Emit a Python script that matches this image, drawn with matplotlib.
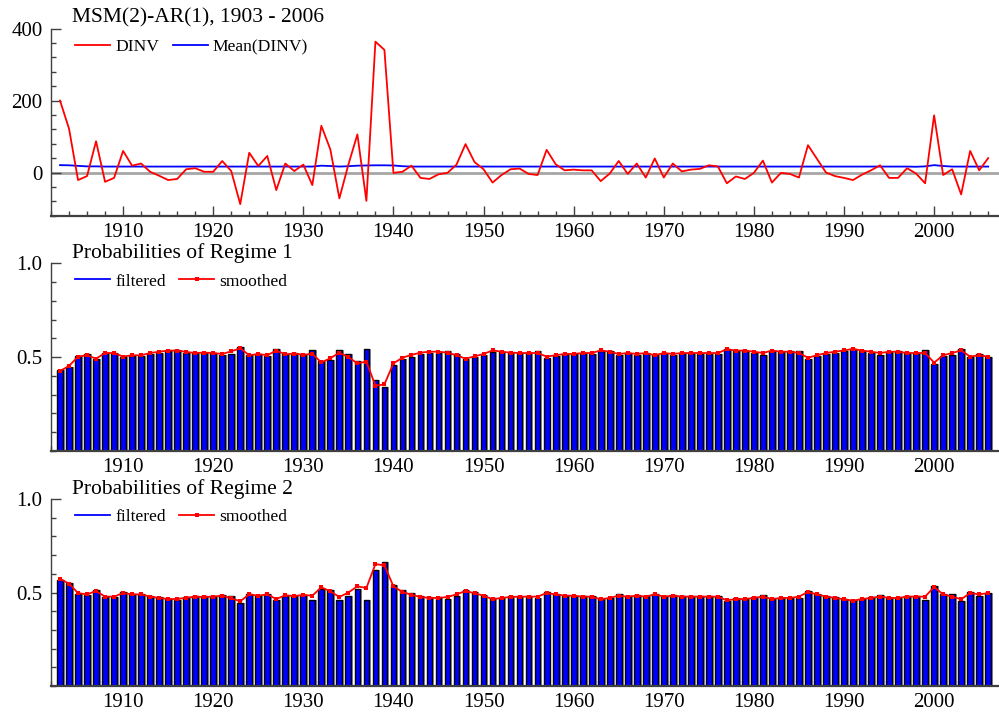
import matplotlib
matplotlib.use("Agg")
import matplotlib.pyplot as plt
from matplotlib.ticker import MultipleLocator, FixedLocator
from matplotlib.lines import Line2D

years = list(range(1903, 2007))

dinv = [200, 122, -21, -10, 87, -26, -15, 60,
        19, 25, 2, -9, -21, -18, 9, 12, 2, 2,
        32, 4, -88, 55, 18, 46, -49, 25, 4, 22,
        -35, 130, 64, -72, 22, 106, -79, 364, 341, -1,
        2, 19, -15, -18, -5, -1, 22, 79, 29, 9,
        -28, -7, 9, 11, -4, -7, 63, 23, 6, 8,
        6, 6, -24, -3, 32, -4, 25, -14, 39, -14,
        25, 3, 8, 10, 20, 17, -30, -11, -18, -1,
        33, -28, -1, -4, -14, 76, 38, 0, -10, -15,
        -21, -6, 6, 20, -15, -15, 12, -3, -30, 159,
        -7, 9, -61, 60, 6, 40]

mean_dinv = [20.5, 20.0, 18.5, 17.0, 17.0, 16.5, 16.5, 16.5,
             16.5, 16.5, 16.5, 16.5, 16.5, 16.5, 16.5, 16.5, 16.5, 16.5,
             16.5, 16.5, 16.5, 16.5, 16.5, 16.5, 16.5, 16.5, 16.5, 16.5,
             16.5, 19.0, 18.0, 16.5, 17.5, 19.0, 19.5, 20.0, 20.0, 19.5,
             17.5, 16.5, 16.5, 16.5, 16.5, 16.5, 16.5, 16.5, 16.5, 16.5,
             16.5, 16.5, 16.5, 16.5, 16.5, 16.5, 16.5, 16.5, 16.5, 16.5,
             16.5, 16.5, 16.5, 16.5, 16.5, 16.5, 16.5, 16.5, 16.5, 16.5,
             16.5, 16.5, 16.5, 16.5, 16.5, 16.5, 16.5, 16.5, 16.5, 16.5,
             16.5, 16.5, 16.5, 16.5, 16.5, 16.5, 16.5, 16.5, 16.5, 16.5,
             16.5, 16.5, 16.5, 16.5, 16.5, 16.5, 16.5, 16.0, 17.0, 20.5,
             18.0, 16.5, 16.5, 16.5, 16.5, 16.5]

filt1 = [.432, .449, .506, .515, .488, .524, .524, .499,
         .508, .506, .517, .524, .535, .538, .524, .520, .520, .520,
         .513, .517, .556, .510, .517, .506, .542, .517, .520, .513,
         .538, .481, .485, .538, .517, .479, .542, .378, .339, .458,
         .488, .503, .517, .524, .524, .533, .517, .488, .499, .512,
         .529, .527, .520, .520, .520, .531, .496, .506, .517, .517,
         .520, .517, .535, .531, .510, .520, .513, .520, .510, .520,
         .512, .520, .520, .517, .517, .517, .545, .531, .535, .524,
         .512, .535, .529, .531, .531, .492, .506, .517, .524, .535,
         .542, .535, .522, .512, .527, .531, .520, .520, .538, .464,
         .506, .510, .545, .499, .517, .503]

smooth1 = [.426, .453, .503, .510, .492, .522, .522, .503,
           .510, .510, .522, .529, .535, .535, .528, .522, .524, .522,
           .517, .531, .547, .510, .517, .510, .535, .515, .519, .513,
           .517, .472, .494, .524, .500, .467, .476, .348, .355, .467,
           .497, .512, .524, .529, .529, .524, .510, .492, .504, .517,
           .536, .529, .524, .522, .522, .522, .503, .510, .517, .517,
           .522, .522, .536, .529, .517, .522, .517, .522, .510, .522,
           .517, .522, .522, .522, .522, .522, .542, .535, .535, .529,
           .522, .535, .529, .529, .522, .497, .510, .522, .529, .536,
           .544, .535, .529, .522, .529, .529, .522, .522, .522, .471,
           .510, .522, .536, .503, .510, .503]

filt2 = [.568, .551, .494, .485, .512, .476, .476, .501,
         .492, .494, .483, .476, .465, .462, .476, .480, .480, .480,
         .487, .483, .444, .490, .483, .494, .458, .483, .480, .487,
         .462, .519, .515, .462, .483, .521, .458, .622, .661, .542,
         .512, .497, .483, .476, .476, .467, .483, .512, .501, .488,
         .471, .473, .480, .480, .480, .469, .504, .494, .483, .483,
         .480, .483, .465, .469, .490, .480, .487, .480, .490, .480,
         .488, .480, .480, .483, .483, .483, .455, .469, .465, .476,
         .488, .465, .471, .469, .469, .508, .494, .483, .476, .465,
         .458, .465, .478, .488, .473, .469, .480, .480, .462, .536,
         .494, .490, .455, .501, .483, .497]

smooth2 = [.574, .547, .497, .490, .508, .478, .478, .497,
           .490, .490, .478, .471, .465, .465, .472, .478, .476, .478,
           .483, .469, .453, .490, .483, .490, .465, .485, .481, .487,
           .483, .528, .506, .476, .500, .533, .524, .652, .645, .533,
           .503, .488, .476, .471, .471, .476, .490, .508, .496, .483,
           .464, .471, .476, .478, .478, .478, .497, .490, .483, .483,
           .478, .478, .464, .471, .483, .478, .483, .478, .490, .478,
           .483, .478, .478, .478, .478, .478, .458, .465, .465, .471,
           .478, .465, .471, .471, .478, .503, .490, .478, .471, .464,
           .456, .465, .471, .478, .471, .471, .478, .478, .478, .529,
           .490, .478, .464, .497, .490, .497]

title_top = "MSM(2)-AR(1), 1903 - 2006"
title_r1 = "Probabilities of Regime 1"
title_r2 = "Probabilities of Regime 2"

plt.rcParams['font.family'] = ['Liberation Serif', 'DejaVu Serif']

W, H = 999, 714
fig = plt.figure(figsize=(W / 100, H / 100), dpi=100)

def fr(left, top, right, bottom):
    return [left / W, 1 - bottom / H, (right - left) / W, (bottom - top) / H]

RED = '#ff0000'
BLUE = '#0000ff'
SPINE = '#404040'
AXW = 948.0
MS = 3.1

def style_axes(ax):
    for s in ['top', 'right']:
        ax.spines[s].set_visible(False)
    ax.spines['left'].set_color(SPINE)
    ax.spines['left'].set_linewidth(1.0)
    ax.spines['bottom'].set_color(SPINE)
    ax.spines['bottom'].set_linewidth(1.6)
    ax.set_xlim(1902.0, 2007.2)
    ax.xaxis.set_major_locator(MultipleLocator(10))
    ax.xaxis.set_minor_locator(MultipleLocator(2))
    ax.tick_params(axis='both', which='both', direction='in', colors=SPINE,
                   labelcolor='black', labelsize=15)
    ax.tick_params(axis='x', which='major', length=7, width=1.0, pad=5)
    ax.tick_params(axis='x', which='minor', length=3.5, width=1.0)
    ax.tick_params(axis='y', which='major', length=7, width=1.0, pad=6)
    ax.tick_params(axis='y', which='minor', length=3.5, width=1.0)
    ax.patch.set_alpha(0)

LEG = dict(loc='upper left', bbox_to_anchor=(0.022, 0.965), frameon=False, ncol=2,
           fontsize=12.6, handlelength=2.0, handletextpad=0.3, columnspacing=0.75,
           borderaxespad=0, borderpad=0.2)

# ---------- top panel ----------
ax1 = fig.add_axes(fr(51, 28.7, 999, 216))
style_axes(ax1)
ax1.set_ylim(-121, 400)
ax1.yaxis.set_major_locator(FixedLocator([0, 200, 400]))
ax1.yaxis.set_minor_locator(MultipleLocator(40))
ax1.axhline(0, color='#a6a6a6', lw=2.0, zorder=1)
ax1.plot(years, dinv, color=RED, lw=1.3, zorder=3, label='DINV')
ax1.plot(years, mean_dinv, color=BLUE, lw=1.3, zorder=2, label='Mean(DINV)')
ax1.text((72 - 51) / AXW, 1 + 11 / 187.3, title_top, transform=ax1.transAxes,
         fontsize=15.5, ha='left', va='center')
ax1.legend(**LEG)

def prob_panel(rect, filt, smooth, title):
    ax = fig.add_axes(rect)
    style_axes(ax)
    ax.set_axisbelow(True)
    ax.set_ylim(0, 1.0)
    ax.yaxis.set_major_locator(FixedLocator([0.5, 1.0]))
    ax.yaxis.set_minor_locator(MultipleLocator(0.1))
    ax.yaxis.set_major_formatter(matplotlib.ticker.FormatStrFormatter('%.1f'))
    shadow_x = [y + 0.22 for y in years]
    ax.bar(shadow_x, filt, width=0.64, color='#9a9a9a', edgecolor='none', zorder=1)
    ax.bar(years, filt, width=0.64, color=BLUE, edgecolor='black', linewidth=1.0,
           zorder=2)
    ax.plot(years, smooth, color=RED, lw=1.3, marker='s', markersize=MS,
            markeredgewidth=0, zorder=4)
    ax.text((72 - 51) / AXW, 1 + 10 / 187.7, title, transform=ax.transAxes,
            fontsize=15.5, ha='left', va='center')
    handles = [Line2D([], [], color=BLUE, lw=1.3),
               Line2D([], [], color=RED, lw=1.3, marker='s', markersize=MS,
                      markeredgewidth=0)]
    ax.legend(handles, ['filtered', 'smoothed'], **LEG)
    return ax

ax2 = prob_panel(fr(51, 263.3, 999, 451), filt1, smooth1, title_r1)
ax3 = prob_panel(fr(51, 499, 999, 686), filt2, smooth2, title_r2)

fig.savefig('out.png', dpi=100)
